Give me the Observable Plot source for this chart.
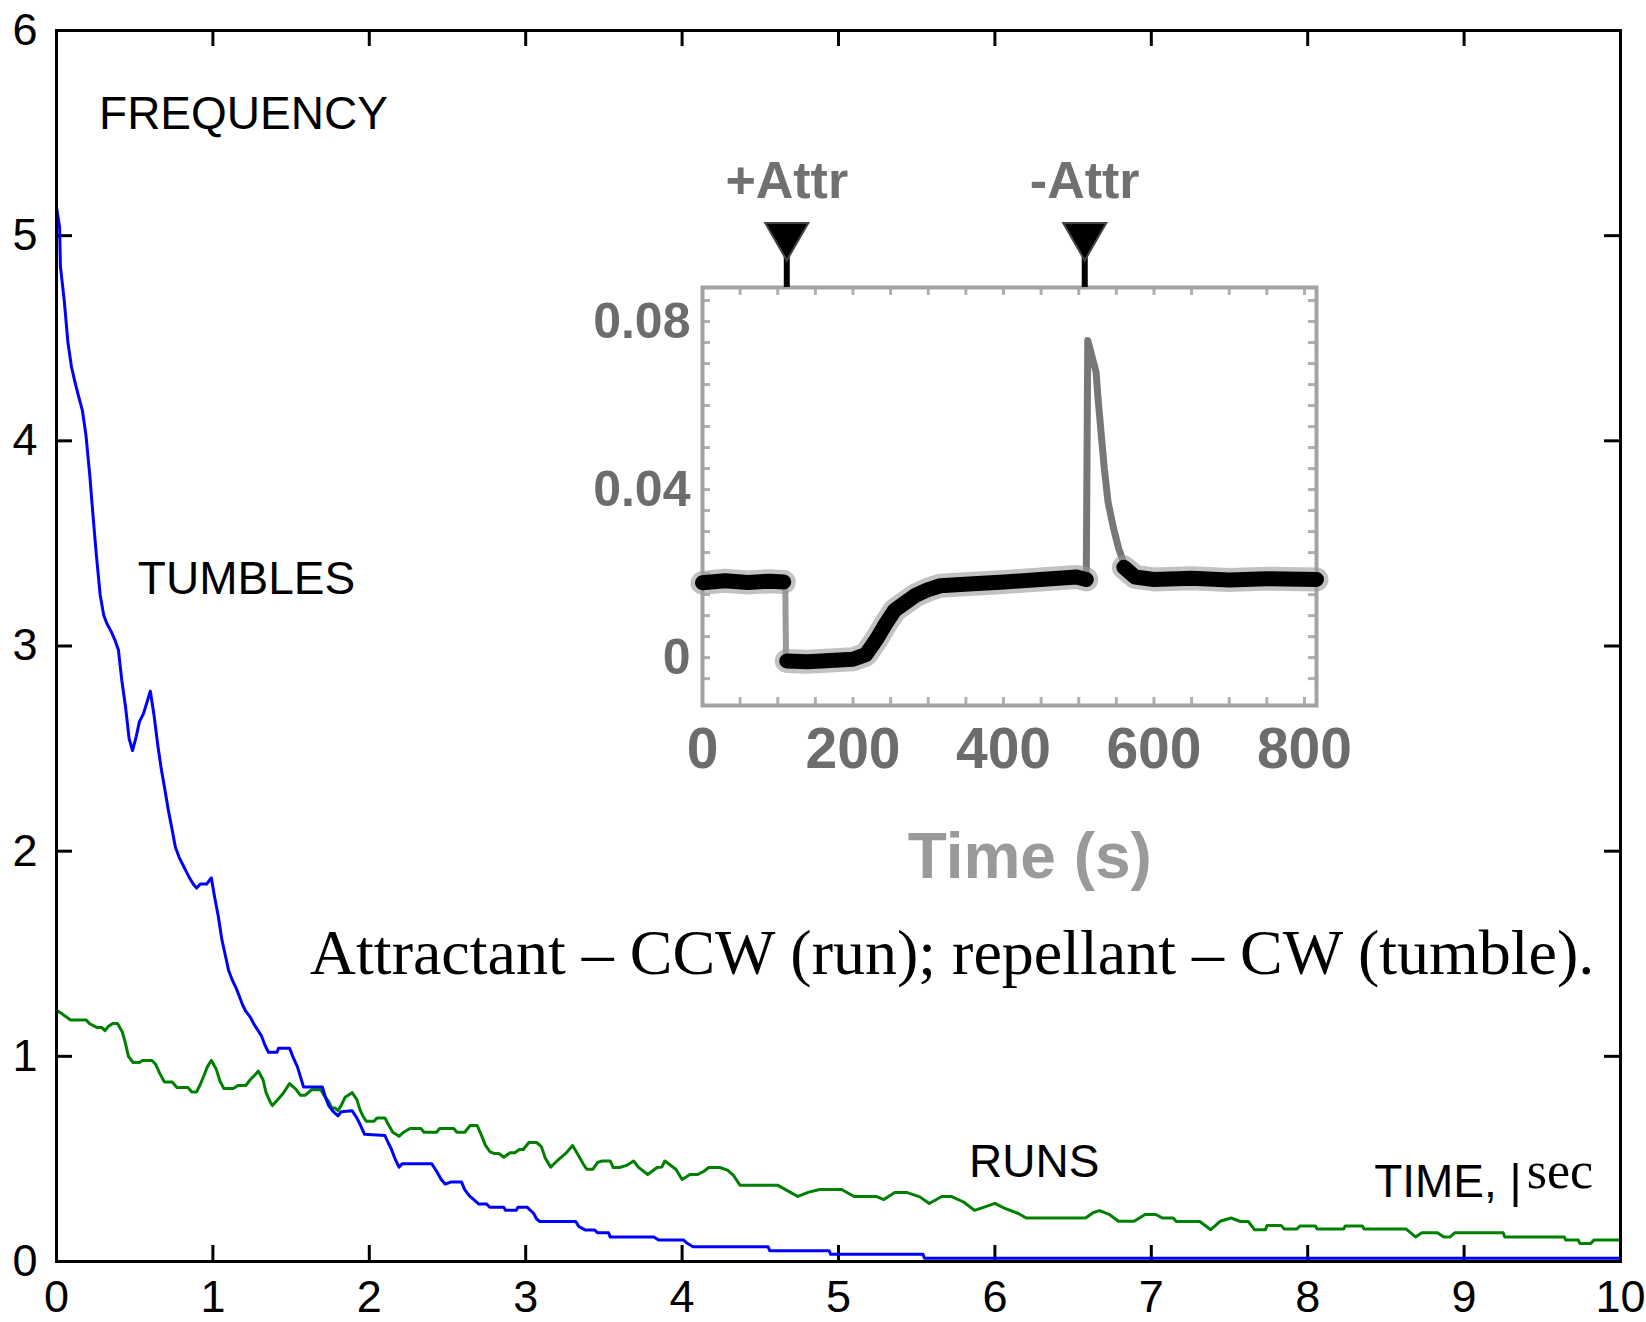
<!DOCTYPE html>
<html><head><meta charset="utf-8">
<script src="https://cdn.jsdelivr.net/npm/d3@7"></script>
<script src="https://cdn.jsdelivr.net/npm/@observablehq/plot@0.6"></script>
<style>
html,body{margin:0;padding:0;background:#fff;overflow:hidden;}
#wrap{position:relative;width:1646px;height:1322px;}
#main{position:absolute;left:0;top:0;}
#inset{position:absolute;left:540px;top:140px;}
</style></head><body><div id="wrap"><div id="main"></div><div id="inset"></div></div>
<script>
// ---------- main chart data ----------
const xTicks = [0,1,2,3,4,5,6,7,8,9,10];
const yTicks = [0,1,2,3,4,5,6];
const xInnerTicks = [1,2,3,4,5,6,7,8,9];
const yInnerTicks = [1,2,3,4,5];

const tumbleTime = [0,0.02,0.025,0.05,0.073,0.096,0.117,0.14,0.165,0.188,0.213,0.233,0.254,0.279,0.302,0.322,0.35,0.373,0.396,0.418,0.442,0.464,0.486,0.51,0.53,0.556,0.58,0.60,0.624,0.647,0.67,0.693,0.715,0.738,0.76,0.784,0.81,0.83,0.85,0.874,0.896,0.92,0.96,0.99,1.01,1.035,1.057,1.08,1.10,1.125,1.15,1.17,1.19,1.21,1.24,1.26,1.285,1.31,1.33,1.355,1.41,1.42,1.49,1.51,1.54,1.56,1.58,1.70,1.72,1.74,1.77,1.80,1.82,1.89,1.92,1.94,1.97,2.10,2.12,2.14,2.165,2.19,2.21,2.40,2.43,2.46,2.485,2.52,2.59,2.61,2.64,2.67,2.70,2.75,2.77,2.86,2.87,2.94,2.95,3.01,3.05,3.07,3.09,3.32,3.34,3.38,3.44,3.46,3.53,3.54,3.82,3.85,4.01,4.03,4.07,4.55,4.56,4.94,4.95,5.54,5.55,10];
const tumbleValue = [5.14,5.04,4.85,4.68,4.48,4.36,4.29,4.22,4.15,4.03,3.83,3.64,3.45,3.25,3.15,3.11,3.07,3.03,2.98,2.83,2.70,2.55,2.49,2.56,2.63,2.67,2.73,2.78,2.66,2.52,2.40,2.30,2.20,2.11,2.02,1.97,1.93,1.90,1.87,1.84,1.82,1.84,1.84,1.87,1.78,1.68,1.57,1.49,1.42,1.37,1.33,1.29,1.25,1.22,1.19,1.16,1.13,1.10,1.06,1.02,1.02,1.04,1.04,1.00,0.95,0.90,0.85,0.85,0.80,0.76,0.73,0.71,0.73,0.735,0.70,0.67,0.62,0.614,0.58,0.55,0.50,0.46,0.476,0.476,0.44,0.40,0.377,0.387,0.387,0.35,0.32,0.30,0.28,0.28,0.264,0.264,0.25,0.25,0.264,0.264,0.235,0.207,0.195,0.195,0.17,0.154,0.154,0.14,0.14,0.12,0.12,0.105,0.105,0.09,0.072,0.072,0.053,0.053,0.035,0.035,0.016,0.016];

const runTime = [0,0.03,0.09,0.19,0.21,0.26,0.29,0.31,0.33,0.36,0.39,0.42,0.44,0.46,0.49,0.53,0.55,0.61,0.635,0.66,0.69,0.74,0.77,0.84,0.865,0.895,0.92,0.945,0.965,0.99,1.02,1.045,1.07,1.13,1.16,1.21,1.24,1.27,1.29,1.32,1.34,1.365,1.38,1.41,1.45,1.49,1.53,1.56,1.59,1.63,1.69,1.71,1.74,1.76,1.78,1.80,1.82,1.845,1.89,1.92,1.94,1.96,1.98,2.03,2.05,2.10,2.12,2.15,2.19,2.22,2.26,2.33,2.35,2.43,2.45,2.54,2.56,2.61,2.645,2.69,2.72,2.74,2.77,2.80,2.83,2.86,2.90,2.93,2.96,2.985,3.02,3.07,3.10,3.125,3.16,3.20,3.26,3.30,3.33,3.37,3.39,3.43,3.46,3.49,3.54,3.56,3.60,3.65,3.69,3.72,3.78,3.84,3.87,3.89,3.96,4.00,4.05,4.10,4.14,4.17,4.24,4.29,4.33,4.37,4.61,4.69,4.74,4.81,4.88,5.02,5.10,5.24,5.29,5.36,5.44,5.52,5.58,5.66,5.72,5.80,5.87,5.95,6.00,6.06,6.15,6.20,6.58,6.63,6.67,6.73,6.79,6.89,6.96,7.03,7.07,7.14,7.16,7.31,7.38,7.44,7.51,7.57,7.62,7.66,7.73,7.74,7.83,7.85,7.93,7.95,8.05,8.06,8.23,8.24,8.35,8.36,8.63,8.69,8.73,8.83,8.87,8.91,8.94,9.25,9.26,9.64,9.65,9.73,9.74,9.81,9.83,10];
const runValue = [1.225,1.21,1.177,1.177,1.16,1.14,1.14,1.125,1.145,1.16,1.16,1.12,1.067,1.0,0.97,0.97,0.98,0.98,0.96,0.917,0.875,0.875,0.848,0.848,0.826,0.826,0.864,0.91,0.95,0.98,0.94,0.88,0.843,0.843,0.858,0.858,0.887,0.91,0.928,0.887,0.823,0.78,0.76,0.785,0.82,0.867,0.84,0.81,0.81,0.837,0.837,0.81,0.78,0.748,0.748,0.736,0.76,0.80,0.823,0.79,0.74,0.708,0.684,0.684,0.70,0.70,0.67,0.63,0.61,0.63,0.648,0.648,0.63,0.63,0.648,0.648,0.63,0.63,0.663,0.663,0.61,0.57,0.536,0.526,0.526,0.508,0.53,0.53,0.546,0.546,0.58,0.58,0.56,0.505,0.46,0.49,0.53,0.565,0.526,0.473,0.45,0.45,0.483,0.49,0.49,0.458,0.458,0.47,0.49,0.46,0.424,0.458,0.46,0.49,0.45,0.40,0.424,0.424,0.44,0.458,0.458,0.445,0.418,0.372,0.372,0.338,0.317,0.338,0.351,0.351,0.317,0.317,0.302,0.336,0.336,0.315,0.283,0.317,0.317,0.29,0.249,0.27,0.283,0.26,0.234,0.212,0.212,0.239,0.248,0.23,0.196,0.196,0.229,0.229,0.212,0.212,0.195,0.195,0.155,0.196,0.212,0.195,0.195,0.155,0.155,0.176,0.176,0.158,0.158,0.173,0.173,0.158,0.158,0.173,0.173,0.158,0.158,0.12,0.14,0.14,0.12,0.12,0.14,0.14,0.12,0.12,0.105,0.105,0.088,0.088,0.105,0.105];

const sansLabelText = ["FREQUENCY","TUMBLES","RUNS","TIME, |"];
const sansLabelT = [0.272, 0.52, 5.835, 8.425];
const sansLabelV = [5.52, 3.255, 0.414, 0.312];
const serifUnitText = ["sec"];
const serifUnitT = [9.40];
const serifUnitV = [0.36];
const captionText = ["Attractant \u2013 CCW (run); repellant \u2013 CW (tumble)."];
const captionT = [1.62];
const captionV = [1.399];

// ---------- inset data ----------
const insetXTicks = [0,200,400,600,800];
const insetYTicks = [0,0.04,0.08];
const insetMinorX = [50,100,150,200,250,300,350,400,450,500,550,600,650,700,750,800];
const insetMinorY = [-0.005,0,0.005,0.01,0.015,0.02,0.025,0.03,0.035,0.04,0.045,0.05,0.055,0.06,0.065,0.07,0.075,0.08,0.085];
const beforeT = [0,30,60,90,108];
const beforeV = [0.0178,0.0183,0.0179,0.0182,0.0180];
const dropT = [110,111];
const dropV = [0.0180,-0.0006];
const duringT = [112,140,170,200,217,231,243,255,268,283,300,316,354,401,449,497,510];
const duringV = [-0.0008,-0.0010,-0.0007,-0.0004,0.0007,0.0043,0.0079,0.0112,0.0129,0.0148,0.0162,0.0171,0.0175,0.0180,0.0186,0.0192,0.0186];
const spikeT = [510,512,523,526,530,534,539,546,553,559,570];
const spikeV = [0.0186,0.0755,0.068,0.061,0.053,0.045,0.037,0.031,0.026,0.023,0.0195];
const afterT = [560,575,600,650,700,750,816];
const afterV = [0.0215,0.0192,0.0186,0.0189,0.0185,0.0188,0.0186];
const eventT = [112, 508];
const eventLabel = ["+Attr", "-Attr"];
const insetTitle = ["Time (s)"];
const insetTitleT = [435];

// ---------- helpers ----------
const zip = (T, V) => T.map((t, i) => ({t, v: V[i]}));

// ---------- main chart ----------
const W = 1646, H = 1322, mL = 56, mR = 26, mT = 30, mB = 61;
const PW = W - mL - mR, PH = H - mT - mB;
const TICK = 16;

const mainPlot = Plot.plot({
  width: W, height: H,
  marginLeft: mL, marginRight: mR, marginTop: mT, marginBottom: mB,
  style: {background: "transparent", fontFamily: "'Liberation Sans', Arial, sans-serif", fontSize: "45px", color: "black"},
  x: {domain: [0, 10], axis: null, label: null},
  y: {domain: [0, 6], axis: null, label: null},
  marks: [
    Plot.axisX({ticks: xTicks, tickSize: 0, tickPadding: 19, tickFormat: d => String(d), fontSize: 45, label: null}),
    Plot.axisY({ticks: yTicks, tickSize: 0, tickPadding: 19, tickFormat: d => String(d), fontSize: 45, label: null}),
    Plot.ruleX(xInnerTicks, {x: d => d, insetTop: PH - TICK, strokeWidth: 3, stroke: "black"}),
    Plot.ruleX(xInnerTicks, {x: d => d, insetBottom: PH - TICK, strokeWidth: 3, stroke: "black"}),
    Plot.ruleY(yInnerTicks, {y: d => d, insetRight: PW - TICK, strokeWidth: 3, stroke: "black"}),
    Plot.ruleY(yInnerTicks, {y: d => d, insetLeft: PW - TICK, strokeWidth: 3, stroke: "black"}),
    Plot.line(zip(runTime, runValue), {x: "t", y: "v", stroke: "#008000", strokeWidth: 3}),
    Plot.line(zip(tumbleTime, tumbleValue), {x: "t", y: "v", stroke: "#0000ff", strokeWidth: 3}),
    Plot.frame({stroke: "black", strokeWidth: 3}),
    Plot.text(sansLabelText.map((s, i) => ({s, t: sansLabelT[i], v: sansLabelV[i]})),
      {x: "t", y: "v", text: "s", textAnchor: "start", lineAnchor: "bottom", fontSize: 46, fill: "black"}),
    Plot.text(serifUnitText.map((s, i) => ({s, t: serifUnitT[i], v: serifUnitV[i]})),
      {x: "t", y: "v", text: "s", textAnchor: "start", lineAnchor: "bottom", fontSize: 52, fontFamily: "'Liberation Serif', 'Times New Roman', serif", fill: "black"}),
    Plot.text(captionText.map((s, i) => ({s, t: captionT[i], v: captionV[i]})),
      {x: "t", y: "v", text: "s", textAnchor: "start", lineAnchor: "bottom", fontSize: 64, fontFamily: "'Liberation Serif', 'Times New Roman', serif", fill: "black"})
  ]
});
document.getElementById("main").appendChild(mainPlot);

// ---------- inset chart ----------
const IW = 836, IH = 760, iL = 162, iR = 60, iT = 147, iB = 195;
const IPW = IW - iL - iR, IPH = IH - iT - iB;
const ITICK = 8;
const gray = "#a3a3a3";
const band = [...zip(beforeT, beforeV).map(d => ({...d, s: "a"})), ...zip(duringT, duringV).map(d => ({...d, s: "b"})), ...zip(afterT, afterV).map(d => ({...d, s: "c"}))];
const events = eventT.map((t, i) => ({t, label: eventLabel[i]}));

const insetPlot = Plot.plot({
  width: IW, height: IH,
  marginLeft: iL, marginRight: iR, marginTop: iT, marginBottom: iB,
  style: {background: "transparent", fontFamily: "'Liberation Sans', Arial, sans-serif", fontSize: "50px", color: "#707070"},
  x: {domain: [0, 816], axis: null, label: null},
  y: {domain: [-0.0114, 0.0881], axis: null, label: null},
  marks: [
    Plot.axisX({ticks: insetXTicks, tickSize: 0, tickPadding: 22, tickFormat: d => String(d), fontSize: 57, fontWeight: "bold", fill: "#6c6c6c", label: null}),
    Plot.axisY({ticks: insetYTicks, tickSize: 0, tickPadding: 12, tickFormat: d => d === 0 ? "0" : d.toFixed(2), fontSize: 50, fontWeight: "bold", fill: "#6c6c6c", label: null}),
    Plot.ruleX(insetMinorX, {x: d => d, insetTop: IPH - ITICK, strokeWidth: 3, stroke: "#b0b0b0"}),
    Plot.ruleX(insetMinorX, {x: d => d, insetBottom: IPH - ITICK, strokeWidth: 3, stroke: "#b0b0b0"}),
    Plot.ruleY(insetMinorY, {y: d => d, insetRight: IPW - ITICK, strokeWidth: 3, stroke: "#b0b0b0"}),
    Plot.ruleY(insetMinorY, {y: d => d, insetLeft: IPW - ITICK, strokeWidth: 3, stroke: "#b0b0b0"}),
    Plot.frame({stroke: gray, strokeWidth: 4}),
    Plot.line(zip(dropT, dropV), {x: "t", y: "v", stroke: "#9a9a9a", strokeWidth: 6}),
    Plot.line(zip(spikeT, spikeV), {x: "t", y: "v", stroke: "#777", strokeWidth: 7, strokeLinejoin: "round"}),
    Plot.line(band, {x: "t", y: "v", z: "s", stroke: "#9a9a9a", strokeWidth: 24, strokeOpacity: 0.6, strokeLinejoin: "round"}),
    Plot.line(band, {x: "t", y: "v", z: "s", stroke: "black", strokeWidth: 15, strokeLinejoin: "round"}),
    Plot.ruleX(events, {x: "t", insetTop: -34, insetBottom: IPH, stroke: "black", strokeWidth: 6}),
    Plot.dot(events, {x: "t", frameAnchor: "top", dy: -52, symbol: "triangle", rotate: 180, r: 16, fill: "black", stroke: "#444", strokeWidth: 2}),
    Plot.text(events, {x: "t", text: "label", frameAnchor: "top", dy: -90, lineAnchor: "bottom", fontSize: 52, fontWeight: "bold", fill: "#707070"}),
    Plot.text(insetTitle.map((s, i) => ({s, t: insetTitleT[i]})),
      {x: "t", text: "s", frameAnchor: "bottom", dy: 172, lineAnchor: "bottom", fontSize: 64, fontWeight: "bold", fill: "#9a9a9a"})
  ]
});
document.getElementById("inset").appendChild(insetPlot);
</script></body></html>
